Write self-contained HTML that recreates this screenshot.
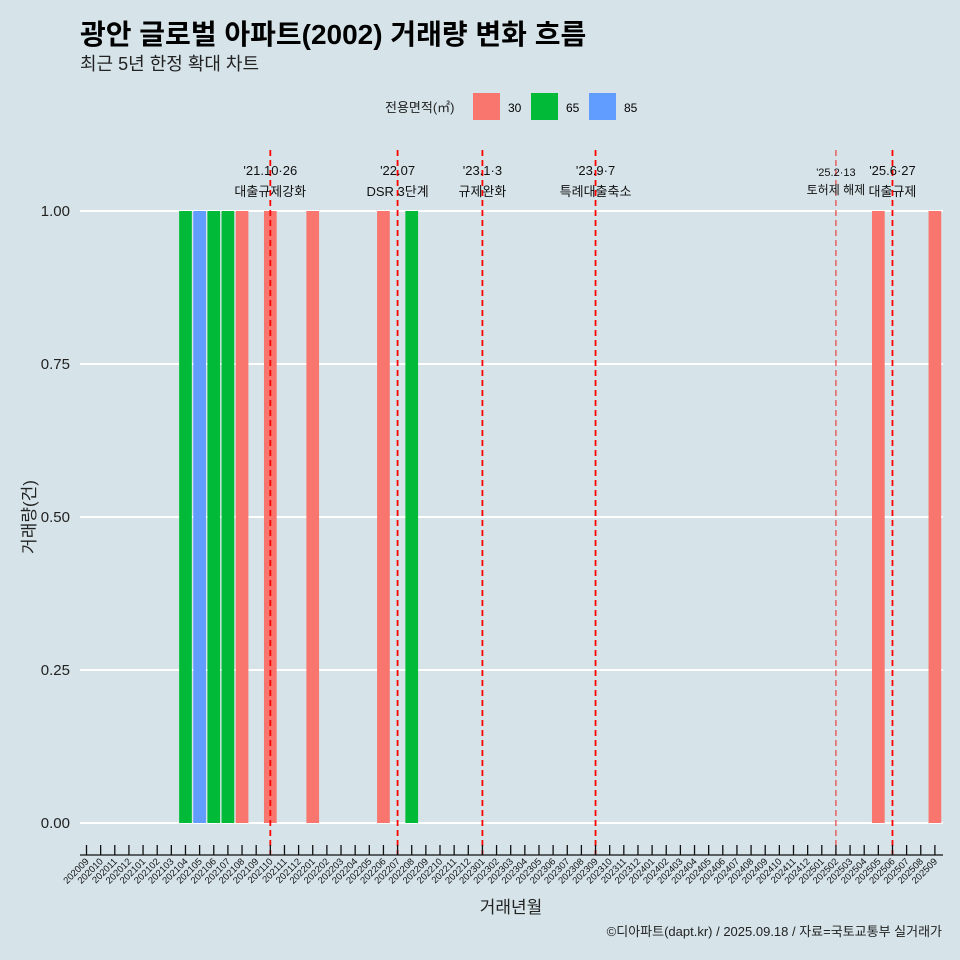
<!DOCTYPE html>
<html><head><meta charset="utf-8"><style>
body{margin:0;background:#d6e4ea;}
svg{display:block;font-family:"Liberation Sans","Noto Sans CJK KR",sans-serif;}
</style></head><body>
<svg id="c" width="960" height="960" viewBox="0 0 960 960">
<rect width="960" height="960" fill="#d6e4ea"/>
<text x="80" y="44" font-size="28" font-weight="bold" fill="#000">광안 글로벌 아파트(2002) 거래량 변화 흐름</text>
<text x="80" y="70" font-size="18" fill="#222">최근 5년 한정 확대 차트</text>
<g>
<text x="385" y="112" font-size="13" fill="#222">전용면적(㎡)</text>
<rect x="473" y="93" width="27" height="27" fill="#f8766d"/>
<text x="508" y="112" font-size="12">30</text>
<rect x="531" y="93" width="27" height="27" fill="#00ba38"/>
<text x="566" y="112" font-size="12">65</text>
<rect x="589" y="93" width="27" height="27" fill="#619cff"/>
<text x="624" y="112" font-size="12">85</text>
</g>
<g id="grid"></g><g id="bars"></g><g id="ev"></g><g id="axes"></g>
<text x="35" y="517" font-size="17" transform="rotate(-90 35 517)" text-anchor="middle" fill="#222">거래량(건)</text>
<text x="511" y="913" font-size="17" text-anchor="middle" fill="#222">거래년월</text>
<text x="942" y="936" font-size="13" text-anchor="end" fill="#222">©디아파트(dapt.kr) / 2025.09.18 / 자료=국토교통부 실거래가</text>
</svg>
<script>
const barMonths=["202104","202105","202106","202107","202108","202110","202201","202206","202208","202505","202509"];
const barAreas=["65","85","65","65","30","30","30","30","65","30","30"];
const barValues=[1,1,1,1,1,1,1,1,1,1,1];
const yTicks=[0,0.25,0.5,0.75,1];
const yTickLabels=["0.00","0.25","0.50","0.75","1.00"];
const eventMonths=["202110","202207","202301","202309","202502","202506"];
const eventDates=["'21.10·26","'22.07","'23.1·3","'23.9·7","'25.2·13","'25.6·27"];
const eventTexts=["대출규제강화","DSR 3단계","규제완화","특례대출축소","토허제 해제","대출규제"];
const colors={"30":"#f8766d","65":"#00ba38","85":"#619cff"};
const months=[];for(let y=2020,m=9;;){months.push(""+y+String(m).padStart(2,"0"));if(y===2025&&m===9)break;m++;if(m>12){m=1;y++;}}
const NS="http://www.w3.org/2000/svg";
const x0=86.5,step=14.14,bw=12.7;
const xs=mo=>x0+months.indexOf(mo)*step;
const ys=v=>823-v*612;
function mk(t,a,p){const e=document.createElementNS(NS,t);for(const k in a)e.setAttribute(k,a[k]);p.appendChild(e);return e;}
const grid=document.getElementById('grid'),bars=document.getElementById('bars'),ev=document.getElementById('ev'),axes=document.getElementById('axes');
yTicks.forEach((v,i)=>{
 const l=mk('line',{x1:80,x2:943,y1:ys(v),y2:ys(v),stroke:'#fff','stroke-width':2},grid);
 
 
 const t=mk('text',{x:70,y:ys(v)+5,'font-size':15,'text-anchor':'end',fill:'#222'},axes);t.textContent=yTickLabels[i];
 
 
});
barMonths.forEach((mo,i)=>{
 const r=mk('rect',{x:xs(mo)-bw/2,y:ys(barValues[i]),width:bw,height:ys(0)-ys(barValues[i]),fill:colors[barAreas[i]]},bars);
 
 
});
eventMonths.forEach((mo,i)=>{
 const x=xs(mo),small=i===4;
 const l=mk('line',{x1:x,x2:x,y1:150,y2:855,stroke:small?'#e84040':'#ff0000','stroke-width':small?1.2:1.8,'stroke-dasharray':'6,4'},ev);
 
 
 const t1=mk('text',{x:x,y:small?176:175,'font-size':small?11:13,'text-anchor':'middle',fill:'#111'},ev);t1.textContent=eventDates[i];
 
 
 const t2=mk('text',{x:x,y:small?194:196,'font-size':small?12:13,'text-anchor':'middle',fill:'#111'},ev);t2.textContent=eventTexts[i];
 
 
});
const ax=mk('line',{x1:80,x2:943,y1:855,y2:855,stroke:'#111','stroke-width':1.2},axes);


months.forEach(mo=>{
 const x=xs(mo);
 const tk=mk('line',{x1:x,x2:x,y1:845,y2:855,stroke:'#111','stroke-width':1.3},axes);
 
 
 const t=mk('text',{x:x+3,y:862,'font-size':9.5,'text-anchor':'end',fill:'#111',transform:`rotate(-45 ${x+3} 862)`},axes);t.textContent=mo;
 
 
});
</script>
</body></html>
